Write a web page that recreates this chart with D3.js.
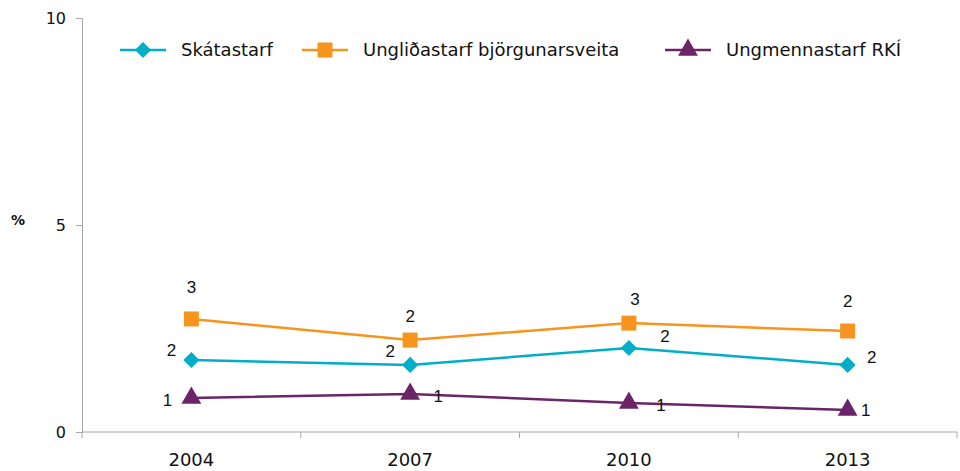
<!DOCTYPE html>
<html>
<head>
<meta charset="utf-8">
<script src="https://cdn.jsdelivr.net/npm/d3@7"></script>
<style>
  body { margin: 0; background: #fff; }
  text { font-family: "DejaVu Sans", sans-serif; fill: #111; }
  .dlabel { font-family: "Liberation Sans", Arial, sans-serif; }
</style>
</head>
<body>
<div id="chart"></div>
<script>
var years = ["2004", "2007", "2010", "2013"];
var seriesNames = ["Skátastarf", "Ungliðastarf björgunarsveita", "Ungmennastarf RKÍ"];
var skatastarf = [1.74, 1.62, 2.03, 1.62];
var unglidastarf = [2.73, 2.22, 2.63, 2.44];
var ungmennastarf = [0.82, 0.92, 0.70, 0.53];
var yTicks = [0, 5, 10];

// label offsets (dx, dy) per series per point
var labelOffsets = [
    [[-20, -10], [-20, -14], [36, -12], [24, -8]],
    [[0, -32], [0, -24], [6, -24], [0, -30]],
    [[-24, 2], [28, 2], [32, 2], [18, 0]]
];

var colors = ["#00aec7", "#f7941d", "#6b2468"];
var symbols = [d3.symbolSquare, d3.symbolSquare, d3.symbolTriangle];
var symbolSizes = [130, 225, 170];
var symbolRotate = [45, 0, 0];
var values = [skatastarf, unglidastarf, ungmennastarf];

var svgWidth = 960, svgHeight = 471;
var margin = { top: 18, right: 2, bottom: 39, left: 82 };
var width = svgWidth - margin.left - margin.right;
var height = svgHeight - margin.top - margin.bottom;

var svg = d3.select("#chart").append("svg")
    .attr("width", svgWidth)
    .attr("height", svgHeight)
    .append("g")
    .attr("transform", "translate(" + margin.left + "," + margin.top + ")");

var x = d3.scaleBand()
    .domain(years)
    .range([0, width - 1]);

var y = d3.scaleLinear()
    .domain([0, 10])
    .range([height, 0]);

// y axis
var yAxis = svg.append("g")
    .call(d3.axisLeft(y).tickValues(yTicks).tickSize(6).tickPadding(10));
yAxis.selectAll("text").attr("font-size", "16px").style("font-family", "'DejaVu Sans', sans-serif").attr("fill", "#111");
yAxis.selectAll("line, path").attr("stroke", "#a6a6a6");

// x axis with boundary ticks
var xAxis = svg.append("g")
    .attr("transform", "translate(0," + height + ")");
xAxis.append("line")
    .attr("x1", 0).attr("x2", width - 1)
    .attr("stroke", "#a6a6a6");
xAxis.selectAll(".bt")
    .data(years.concat(["end"]))
    .enter().append("line")
    .attr("x1", function(d, i) { return i < years.length ? x(d) : x(years[years.length - 1]) + x.bandwidth(); })
    .attr("x2", function(d, i) { return i < years.length ? x(d) : x(years[years.length - 1]) + x.bandwidth(); })
    .attr("y1", 0).attr("y2", 6)
    .attr("stroke", "#a6a6a6");
xAxis.selectAll(".yl")
    .data(years)
    .enter().append("text")
    .attr("x", function(d) { return x(d) + x.bandwidth() / 2; })
    .attr("y", 34)
    .attr("text-anchor", "middle")
    .attr("font-size", "18px")
    .text(function(d) { return d; });

// % label
svg.append("text")
    .attr("x", -71)
    .attr("y", 207)
    .attr("font-size", "14px")
    .attr("font-weight", "bold")
    .text("%");

var line = d3.line()
    .x(function(d, i) { return x(years[i]) + x.bandwidth() / 2; })
    .y(function(d) { return y(d); });

for (var s = 0; s < values.length; s++) {
    var g = svg.append("g");
    g.append("path")
        .datum(values[s])
        .attr("d", line)
        .attr("fill", "none")
        .attr("stroke", colors[s])
        .attr("stroke-width", 2.5);

    var rot = symbolRotate[s];
    g.selectAll(".pt")
        .data(values[s])
        .enter().append("path")
        .attr("d", d3.symbol().type(symbols[s]).size(symbolSizes[s]))
        .attr("transform", function(d, i) {
            return "translate(" + (x(years[i]) + x.bandwidth() / 2) + "," + y(d) + ") rotate(" + rot + ")";
        })
        .attr("fill", colors[s]);

    var offs = labelOffsets[s];
    g.selectAll(".lbl")
        .data(values[s])
        .enter().append("text")
        .attr("class", "dlabel")
        .attr("x", function(d, i) { return x(years[i]) + x.bandwidth() / 2 + offs[i][0]; })
        .attr("y", function(d, i) { return y(d) + offs[i][1]; })
        .attr("text-anchor", "middle")
        .attr("dy", "0.35em")
        .attr("font-size", "17px")
        .text(function(d) { return Math.round(d); });
}

// legend
var legendX = [38, 220, 583];
var legend = svg.append("g").attr("transform", "translate(0,32)");
for (var k = 0; k < seriesNames.length; k++) {
    var lg = legend.append("g").attr("transform", "translate(" + legendX[k] + ",0)");
    lg.append("line")
        .attr("x1", 0).attr("x2", 46)
        .attr("stroke", colors[k])
        .attr("stroke-width", 2.5);
    lg.append("path")
        .attr("d", d3.symbol().type(symbols[k]).size(symbolSizes[k]))
        .attr("transform", "translate(23,0) rotate(" + symbolRotate[k] + ")")
        .attr("fill", colors[k]);
    lg.append("text")
        .attr("x", 61)
        .attr("dy", "0.35em")
        .attr("font-size", "18px")
        .text(seriesNames[k]);
}
</script>
</body>
</html>
